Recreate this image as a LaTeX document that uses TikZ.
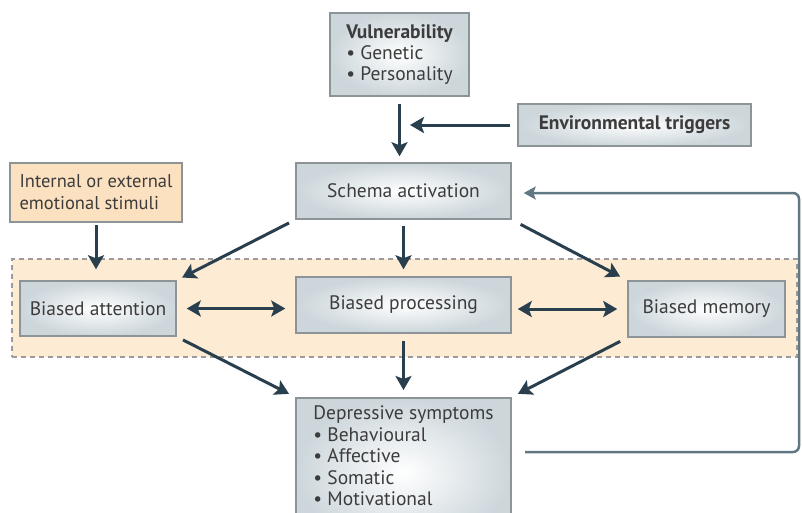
\documentclass[tikz,border=0pt]{standalone}
\usepackage{fontspec}
\setmainfont{PT Sans}
\usetikzlibrary{arrows.meta}
\definecolor{arr}{HTML}{2A3F4E}
\definecolor{fbc}{HTML}{627784}
\definecolor{txt}{HTML}{3C3C3C}
\definecolor{bord}{HTML}{8C9498}
\definecolor{boxout}{HTML}{CCD6DB}
\definecolor{orangefill}{HTML}{FBE1C0}
\definecolor{bandfill}{HTML}{FDEBD3}
\definecolor{dashc}{HTML}{9C9C9C}
\tikzset{
  gbox/.style={draw=bord, line width=1.5pt, inner color=white, outer color=boxout,
    text=txt, font=\fontsize{19.5}{22}\selectfont, inner sep=0pt, align=left},
  obox/.style={draw=bord, line width=1.5pt, fill=orangefill,
    text=txt, font=\fontsize{18.5}{22}\selectfont, inner sep=0pt, align=left},
  bandbox/.style={draw=dashc, line width=1.2pt, dash pattern=on 5pt off 4pt, fill=bandfill, inner sep=0pt},
  arrowline/.style={draw=arr, line width=3pt, -{Stealth[length=14pt,width=16pt,inset=3pt]}},
  darrowline/.style={draw=arr, line width=3pt, {Stealth[length=14pt,width=16pt,inset=3pt]}-{Stealth[length=14pt,width=16pt,inset=3pt]}},
  fbline/.style={draw=fbc, line width=2.5pt, rounded corners=6pt, -{Stealth[length=12pt,width=13pt,inset=2.5pt]}}
}
\begin{document}
\begin{tikzpicture}[x=1pt,y=-1pt]
\clip (0,0) rectangle (802,512);
\fill[white] (0,0) rectangle (802,512);

\node[bandbox, minimum width=785, minimum height=98] (band) at (404.5,308) {};

\node[gbox, minimum width=139, minimum height=83] (vul) at (399.5,54.5)
  {\textbf{Vulnerability}\\[-1pt]\textbullet\ Genetic\\[-1pt]\textbullet\ Personality};
\node[gbox, minimum width=233, minimum height=42] (env) at (634.5,125)
  {\textbf{Environmental triggers}};
\node[gbox, minimum width=215, minimum height=56] (schema) at (403.5,191)
  {Schema activation};
\node[obox, minimum width=172, minimum height=59] (int) at (96,192.5)
  {Internal or external\\emotional stimuli};
\node[gbox, minimum width=156, minimum height=55] (att) at (98,308.5)
  {Biased attention};
\node[gbox, minimum width=215, minimum height=56] (proc) at (403.5,305)
  {Biased processing};
\node[gbox, minimum width=157, minimum height=56] (mem) at (706.5,309)
  {Biased memory};
\node[gbox, font=\fontsize{19.5}{21.5}\selectfont, anchor=north, minimum width=215, inner ysep=8pt, inner xsep=0pt] (dep) at (403.5,397)
  {Depressive symptoms\\\textbullet\ Behavioural\\\textbullet\ Affective\\\textbullet\ Somatic\\\textbullet\ Motivational\\[6pt]\strut};

\coordinate (j) at (400,125);
\coordinate (c1) at (799,452);
\coordinate (c2) at (799,193);
\coordinate (c0) at (525,452);

\draw[arrowline, shorten <=7pt, shorten >=6pt] (vul.south) -- (vul.south |- schema.north);
\draw[arrowline, shorten <=7pt, shorten >=10pt] (env.west) -- (j);
\draw[arrowline, shorten <=2pt, shorten >=11pt] (int.south) -- (int.south |- att.north);
\draw[arrowline, shorten <=7pt, shorten >=6pt] (schema.south west) -- (att.north east);
\draw[arrowline, shorten <=6pt, shorten >=7pt] (schema.south) -- (proc.north);
\draw[arrowline, shorten <=10pt, shorten >=8pt] (schema.south east) -- (mem.north west);
\draw[darrowline, shorten <=10pt, shorten >=10pt] (att.east) -- (att.east -| proc.west);
\draw[darrowline, shorten <=6pt, shorten >=10pt] (proc.east |- mem.west) -- (mem.west);
\draw[arrowline, shorten <=7pt, shorten >=7pt] (att.south east) -- (dep.north west);
\draw[arrowline, shorten <=7pt, shorten >=7pt] (proc.south) -- (dep.north);
\draw[arrowline, shorten <=8pt, shorten >=7pt] (mem.south west) -- (dep.north east);
\draw[fbline, shorten >=12pt] (c0) -- (c1) -- (c2) -- (c2 -| schema.east);
\end{tikzpicture}
\end{document}
